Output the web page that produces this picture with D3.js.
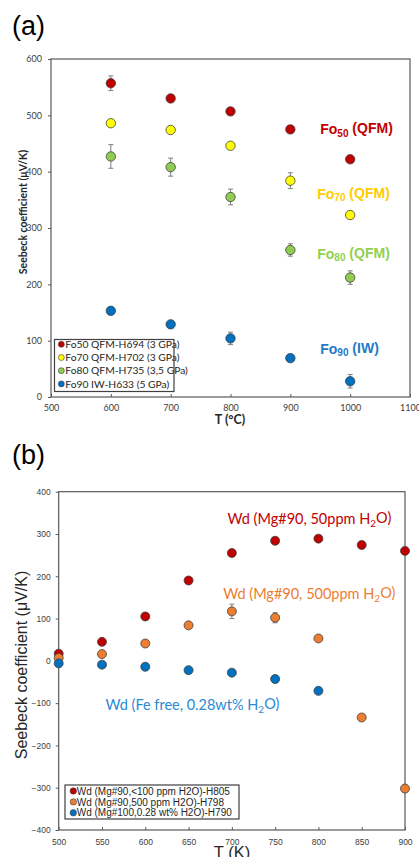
<!DOCTYPE html>
<html>
<head>
<meta charset="utf-8">
<script src="https://cdn.jsdelivr.net/npm/d3@7/dist/d3.min.js"></script>
<style>
  body { margin: 0; background: #fff; }
  svg { display: block; }
</style>
</head>
<body>
<script>
// ---- panel (a): olivine, T in degC ----
const tempsC = [600, 700, 800, 900, 1000];
const fo50 = [557, 530, 507, 475, 422];
const fo50Err = [13, 0, 6, 0, 0];
const fo70 = [486, 474, 446, 384, 323];
const fo70Err = [0, 6, 0, 14, 0];
const fo80 = [427, 408, 355, 261, 212];
const fo80Err = [21, 16, 14, 11, 12];
const fo90 = [153, 129, 104, 69, 28];
const fo90Err = [0, 0, 11, 0, 12];
const legendA = ['Fo50 QFM-H694 (3 GPa)', 'Fo70 QFM-H702 (3 GPa)', 'Fo80 QFM-H735 (3,5 GPa)', 'Fo90 IW-H633 (5 GPa)'];
const xTicksA = [500, 600, 700, 800, 900, 1000, 1100];
const yTicksA = [0, 100, 200, 300, 400, 500, 600];

// ---- panel (b): wadsleyite, T in K ----
const tempsK = [500, 550, 600, 650, 700, 750, 800, 850, 900];
const wd50 = [17, 45, 105, 190, 255, 284, 289, 274, 260];
const wd50Err = [0, 0, 0, 0, 0, 0, 0, 0, 0];
const wd500 = [7, 16, 41, 84, 117, 102, 53, -134, -302];
const wd500Err = [0, 0, 0, 0, 17, 12, 0, 0, 8];
const tempsKFeFree = [500, 550, 600, 650, 700, 750, 800];
const wdFeFree = [-6, -9, -14, -22, -28, -43, -71];
const wdFeFreeErr = [0, 0, 0, 0, 0, 0, 0];
const legendB = ['Wd (Mg#90,<100 ppm H2O)-H805', 'Wd (Mg#90,500 ppm H2O)-H798', 'Wd (Mg#100,0.28 wt% H2O)-H790'];
const xTicksB = [500, 550, 600, 650, 700, 750, 800, 850, 900];
const yTicksB = [-400, -300, -200, -100, 0, 100, 200, 300, 400];

const width = 419;
const height = 857;
const calibri = 'Lato, "Open Sans", sans-serif';
const arial = '"Liberation Sans", Arial, sans-serif';

const svg = d3.select('body').append('svg')
  .attr('width', width)
  .attr('height', height);

function zip(xs, ys, es) {
  return xs.map((x, i) => ({ x : x, y : ys[i], e : es[i] }));
}

// text with subscript parts: [[text, isSub], ...]
function richText(g, parts, subSize) {
  parts.forEach(p => {
    const t = g.append('tspan').text(p[0]);
    if (p[1]) t.attr('font-size', subSize).attr('dy', '0.25em');
    else if (g.selectAll('tspan').size() > 1) t.attr('dy', '-0.25em');
  });
}

function drawPanel(cfg) {
  const x = d3.scaleLinear().domain(cfg.xDomain).range([cfg.left, cfg.right]);
  const y = d3.scaleLinear().domain(cfg.yDomain).range([cfg.bottom, cfg.top]);
  const g = svg.append('g');

  // frame
  g.append('rect')
    .attr('x', cfg.left).attr('y', cfg.top)
    .attr('width', cfg.right - cfg.left).attr('height', cfg.bottom - cfg.top)
    .attr('fill', 'none').attr('stroke', '#595959').attr('stroke-width', 1.2);

  // axes
  const yAxis = g.append('g')
    .attr('transform', `translate(${cfg.left},0)`)
    .call(d3.axisLeft(y).tickValues(cfg.yTicks).tickFormat(d3.format('d')).tickSize(3).tickPadding(cfg.yPad));
  const xAxis = g.append('g')
    .attr('transform', `translate(0,${cfg.bottom})`)
    .call(d3.axisBottom(x).tickValues(cfg.xTicks).tickFormat(d3.format('d')).tickSize(-3).tickPadding(cfg.xPad));
  [yAxis, xAxis].forEach(a => {
    a.select('.domain').remove();
    a.selectAll('line').attr('stroke', '#595959');
    a.selectAll('text')
      .attr('font-family', cfg.tickFont)
      .attr('font-size', cfg.tickSize)
      .attr('fill', '#404040');
  });

  // series
  cfg.series.forEach(s => {
    const pts = g.append('g');
    const withErr = s.points.filter(d => d.e > 0);
    pts.selectAll('.err').data(withErr).enter().append('line')
      .attr('x1', d => x(d.x)).attr('x2', d => x(d.x))
      .attr('y1', d => y(d.y - d.e)).attr('y2', d => y(d.y + d.e))
      .attr('stroke', '#7f7f7f').attr('stroke-width', 1);
    [-1, 1].forEach(sign => {
      pts.selectAll('.cap' + sign).data(withErr).enter().append('line')
        .attr('x1', d => x(d.x) - 2.5).attr('x2', d => x(d.x) + 2.5)
        .attr('y1', d => y(d.y + sign * d.e)).attr('y2', d => y(d.y + sign * d.e))
        .attr('stroke', '#7f7f7f').attr('stroke-width', 1);
    });
    pts.selectAll('circle').data(s.points).enter().append('circle')
      .attr('cx', d => x(d.x)).attr('cy', d => y(d.y))
      .attr('r', cfg.r)
      .attr('fill', s.color)
      .attr('stroke', '#404040').attr('stroke-width', 0.8);
  });

  return { x : x, y : y, g : g };
}

// ================= panel (a) =================
const seriesA = [
  { points : zip(tempsC, fo50, fo50Err), color : '#c00000' },
  { points : zip(tempsC, fo70, fo70Err), color : '#ffff00' },
  { points : zip(tempsC, fo80, fo80Err), color : '#8fcc4f' },
  { points : zip(tempsC, fo90, fo90Err), color : '#0070c0' }
];

const pa = drawPanel({
  left : 51, right : 410, top : 59, bottom : 397,
  xDomain : [500, 1100], yDomain : [0, 600],
  xTicks : xTicksA, yTicks : yTicksA,
  tickFont : calibri, tickSize : 9, xPad : 8, yPad : 6,
  r : 4.7, series : seriesA
});

svg.append('text')
  .attr('x', 12).attr('y', 35)
  .attr('font-family', arial).attr('font-size', 27)
  .text('(a)');

svg.append('text')
  .attr('transform', 'translate(27,212) rotate(-90)')
  .attr('text-anchor', 'middle')
  .attr('font-family', calibri).attr('font-weight', 'bold').attr('font-size', 10.5)
  .attr('fill', '#262626')
  .text('Seebeck coefficient (\u03bcV/K)');

svg.append('text')
  .attr('x', 230).attr('y', 424)
  .attr('text-anchor', 'middle')
  .attr('font-family', calibri).attr('font-weight', 'bold').attr('font-size', 12.5)
  .attr('fill', '#262626')
  .text('T (\u00b0C)');

const labelsA = [
  { parts : [['Fo', 0], ['50', 1], [' (QFM)', 0]], color : '#c00000', at : [950, 475] },
  { parts : [['Fo', 0], ['70', 1], [' (QFM)', 0]], color : '#ffcc00', at : [945, 361] },
  { parts : [['Fo', 0], ['80', 1], [' (QFM)', 0]], color : '#92d050', at : [945, 254] },
  { parts : [['Fo', 0], ['90', 1], [' (IW)', 0]], color : '#1f7ac8', at : [950, 86] }
];
labelsA.forEach(l => {
  const t = svg.append('text')
    .attr('x', pa.x(l.at[0])).attr('y', pa.y(l.at[1]) + 5)
    .attr('font-family', arial).attr('font-weight', 'bold').attr('font-size', 14)
    .attr('fill', l.color);
  richText(t, l.parts, 10);
});

// legend (a)
const legA = svg.append('g');
legA.append('rect')
  .attr('x', 54.5).attr('y', 339.5).attr('width', 119.5).attr('height', 52)
  .attr('fill', '#fff').attr('stroke', '#404040').attr('stroke-width', 1.2);
legendA.forEach((name, i) => {
  const row = legA.append('g').attr('transform', `translate(61.3,${344.3 + i * 13.2})`);
  row.append('circle').attr('r', 3).attr('fill', seriesA[i].color)
    .attr('stroke', '#404040').attr('stroke-width', 0.6);
  row.append('text').attr('x', 4).attr('dy', '0.35em')
    .attr('font-family', calibri).attr('font-size', 10.3).attr('fill', '#262626')
    .text(name);
});

// ================= panel (b) =================
const seriesB = [
  { points : zip(tempsK, wd50, wd50Err), color : '#c00000' },
  { points : zip(tempsK, wd500, wd500Err), color : '#ed7d31' },
  { points : zip(tempsKFeFree, wdFeFree, wdFeFreeErr), color : '#0070c0' }
];

const pb = drawPanel({
  left : 58.7, right : 405, top : 491.7, bottom : 830,
  xDomain : [500, 900], yDomain : [-400, 400],
  xTicks : xTicksB, yTicks : yTicksB,
  tickFont : arial, tickSize : 8.5, xPad : 9, yPad : 5,
  r : 4.5, series : seriesB
});

svg.append('text')
  .attr('x', 12).attr('y', 464)
  .attr('font-family', arial).attr('font-size', 27)
  .text('(b)');

svg.append('text')
  .attr('transform', 'translate(27,665) rotate(-90)')
  .attr('text-anchor', 'middle')
  .attr('font-family', arial).attr('font-size', 16)
  .attr('fill', '#262626')
  .text('Seebeck coefficient (\u03bcV/K)');

svg.append('text')
  .attr('x', 232).attr('y', 857.5)
  .attr('text-anchor', 'middle')
  .attr('font-family', arial).attr('font-size', 16.5)
  .attr('fill', '#262626')
  .text('T (K)');

const labelsB = [
  { parts : [['Wd (Mg#90, 50ppm H', 0], ['2', 1], ['O)', 0]], color : '#c00000', at : [695, 335] },
  { parts : [['Wd (Mg#90, 500ppm H', 0], ['2', 1], ['O)', 0]], color : '#ed7d31', at : [690, 158] },
  { parts : [['Wd (Fe free, 0.28wt% H', 0], ['2', 1], ['O)', 0]], color : '#2a8ad4', at : [554, -105] }
];
labelsB.forEach(l => {
  const t = svg.append('text')
    .attr('x', pb.x(l.at[0])).attr('y', pb.y(l.at[1]) + 5)
    .attr('font-family', calibri).attr('font-size', 14.5)
    .attr('fill', l.color);
  richText(t, l.parts, 10);
});

// legend (b)
const legB = svg.append('g');
legB.append('rect')
  .attr('x', 65).attr('y', 785).attr('width', 174).attr('height', 34)
  .attr('fill', '#fff').attr('stroke', '#404040').attr('stroke-width', 1.2);
legendB.forEach((name, i) => {
  const row = legB.append('g').attr('transform', `translate(73.3,${791 + i * 10.9})`);
  row.append('circle').attr('r', 3.2).attr('fill', seriesB[i].color)
    .attr('stroke', '#404040').attr('stroke-width', 0.6);
  row.append('text').attr('x', 3.4).attr('dy', '0.36em')
    .attr('font-family', arial).attr('font-size', 10).attr('fill', '#262626')
    .text(name);
});
</script>
</body>
</html>
